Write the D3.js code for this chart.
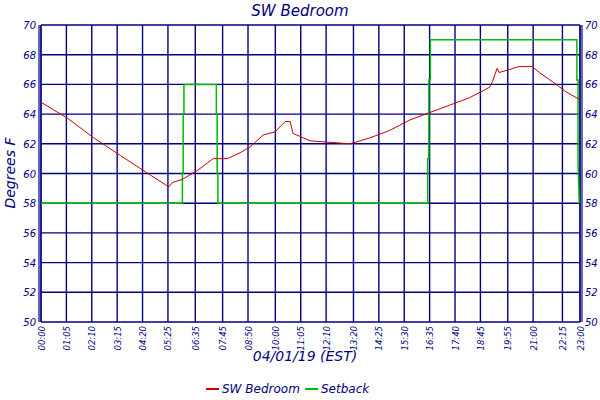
<!DOCTYPE html>
<html><head><meta charset="utf-8">
<script src="https://cdn.jsdelivr.net/npm/d3@7"></script>
<style>body{margin:0;background:#fff}text{font-family:"DejaVu Sans",sans-serif;font-style:italic;fill:#000080}</style>
</head><body><svg id="c" width="600" height="400"></svg>
<script>
// minutes since midnight
const tickMinutes = [0,65,130,195,260,325,395,465,530,600,665,730,800,865,930,995,1060,1125,1195,1260,1335,1380];
const tickLabels = ['00:00','01:05','02:10','03:15','04:20','05:25','06:35','07:45','08:50','10:00','11:05','12:10','13:20','14:25','15:30','16:35','17:40','18:45','19:55','21:00','22:15','23:00'];
const tempMin = [0,69,135,204,268,327,337,362,400,441,477,510,536,569,599,625,638,645,663,689,740,791,842,893,944,995,1046,1097,1148,1156,1168,1173,1199,1224,1258,1276,1319,1344,1378];
const tempVal = [64.8,63.7,62.4,61.2,60.1,59.1,59.4,59.6,60.2,61.0,61.0,61.4,61.8,62.6,62.8,63.5,63.5,62.7,62.5,62.2,62.1,62.0,62.4,62.9,63.6,64.1,64.6,65.1,65.8,66.2,67.1,66.8,67.0,67.2,67.2,66.8,66.0,65.5,65.0];
const setMin = [0,362,362,364,364,366,366,449,449,451,451,453,453,990,990,993,993,997,997,1372,1372,1375,1375,1378];
const setVal = [58,58,60,60,64,64,66,66,64,64,60,60,58,58,61,61,66.3,66.3,69,69,66.3,66.3,60.7,58];
const yTicks = [50,52,54,56,58,60,62,64,66,68,70];

const svg = d3.select('#c');
const L = 41, R = 580, T = 25, B = 322;
const x = d3.scaleLinear().domain([0,1380]).range([L,R]);
const y = d3.scaleLinear().domain([50,70]).range([B,T]);
const navy = '#000080';

const g = svg.append('g');
g.selectAll('line.h').data(yTicks).join('line')
  .attr('x1',L).attr('x2',R).attr('y1',d=>y(d)).attr('y2',d=>y(d))
  .attr('stroke',navy).attr('stroke-width',1.4);
g.selectAll('line.v').data(tickMinutes).join('line')
  .attr('y1',T).attr('y2',B).attr('x1',d=>x(d)).attr('x2',d=>x(d))
  .attr('stroke',navy).attr('stroke-width',1.4);
// double axis lines
[L-2,L,R,R+2].forEach(px => g.append('line').attr('x1',px).attr('x2',px).attr('y1',T).attr('y2',B).attr('stroke',navy).attr('stroke-width',1.2));

g.selectAll('text.yl').data(yTicks).join('text')
  .attr('x',L-5).attr('y',d=>y(d)+4).attr('text-anchor','end').attr('font-size',10).text(d=>d);
g.selectAll('text.yr').data(yTicks).join('text')
  .attr('x',R+5).attr('y',d=>y(d)+4).attr('font-size',10).text(d=>d);
g.selectAll('text.xl').data(tickMinutes).join('text')
  .attr('transform',(d)=>`translate(${x(d)+3.5},${B+4}) rotate(-90)`)
  .attr('text-anchor','end').attr('font-size',8.5).text((d,i)=>tickLabels[i]);

const line = d3.line().x(d=>x(d[0])).y(d=>y(d[1]));
svg.append('path').datum(setMin.map((m,i)=>[m,setVal[i]]))
  .attr('d',line).attr('fill','none').attr('stroke','#00bb00').attr('stroke-width',1.5);
svg.append('path').datum(tempMin.map((m,i)=>[m,tempVal[i]]))
  .attr('d',line).attr('fill','none').attr('stroke','#cc0000').attr('stroke-width',1);

svg.append('text').attr('x',300).attr('y',16).attr('text-anchor','middle').attr('font-size',15).text('SW Bedroom');
svg.append('text').attr('transform','translate(15,173) rotate(-90)').attr('text-anchor','middle').attr('font-size',14).text('Degrees F');
svg.append('text').attr('x',305).attr('y',361).attr('text-anchor','middle').attr('font-size',14).text('04/01/19 (EST)');

const leg = [['SW Bedroom','#cc0000',206],['Setback','#00bb00',305]];
leg.forEach(([t,c,lx]) => {
  svg.append('line').attr('x1',lx).attr('x2',lx+13).attr('y1',389).attr('y2',389).attr('stroke',c).attr('stroke-width',2);
  svg.append('text').attr('x',lx+16).attr('y',393).attr('font-size',12).text(t);
});
</script></body></html>
